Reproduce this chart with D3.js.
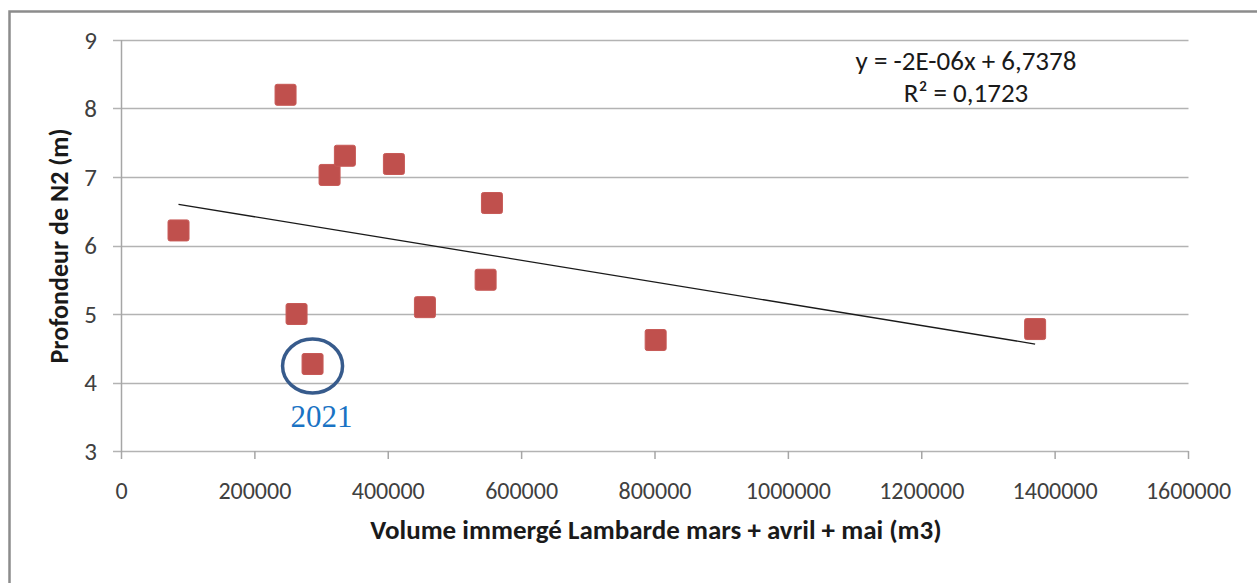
<!DOCTYPE html>
<html>
<head>
<meta charset="utf-8">
<script src="https://cdn.jsdelivr.net/npm/d3@7"></script>
<style>
body { margin: 0; background: #fff; }
svg { display: block; font-family: Carlito, Calibri, Lato, sans-serif; }
</style>
</head>
<body>
<script>
// volume immergé (m3) and profondeur N2 (m), one entry per year
let volumes = [85500, 246000, 312000, 335000, 408500, 555500, 262500, 286500, 455000, 546000, 801000, 1370000];
let depths = [6.22, 8.2, 7.03, 7.31, 7.19, 6.62, 5.0, 4.27, 5.10, 5.50, 4.62, 4.78];
let highlightIndex = 7;
let highlightLabel = "2021";
let xTicks = [0, 200000, 400000, 600000, 800000, 1000000, 1200000, 1400000, 1600000];
let yTicks = [3, 4, 5, 6, 7, 8, 9];
let eqLabel = "y = -2E-06x + 6,7378";
let r2Label = "R² = 0,1723";

let W = 1257, H = 583;
let svg = d3.select("body").append("svg").attr("width", W).attr("height", H);

x = d3.scaleLinear().domain([0, 1600000]).range([121.5, 1188.5]);
y = d3.scaleLinear().domain([3, 9]).range([451, 40]);

// outer frame (only top and left edges are visible)
svg.append("path")
	.attr("d", "M9.5," + H + "V11.5H" + W)
	.style("fill", "none").style("stroke", "#8c8c8c").style("stroke-width", "2.5px");

// horizontal gridlines
svg.append("g").selectAll("line").data(yTicks).enter().append("line")
	.attr("x1", 113).attr("x2", x(1600000))
	.attr("y1", d => Math.round(y(d)) + 0.5).attr("y2", d => Math.round(y(d)) + 0.5)
	.style("stroke", "#b3b3b3").style("stroke-width", "1.5px");

// y axis line
svg.append("line").attr("x1", 121.5).attr("x2", 121.5).attr("y1", y(9)).attr("y2", y(3))
	.style("stroke", "#a6a6a6").style("stroke-width", "1.5px");

// x ticks
svg.append("g").selectAll("line").data(xTicks).enter().append("line")
	.attr("x1", d => x(d)).attr("x2", d => x(d))
	.attr("y1", y(3)).attr("y2", y(3) + 8)
	.style("stroke", "#a6a6a6").style("stroke-width", "1.5px");

svg.append("g").selectAll("text").data(xTicks).enter().append("text")
	.attr("x", d => x(d)).attr("y", 499)
	.attr("text-anchor", "middle")
	.style("font-size", "24px").style("fill", "#404040")
	.text(d => d);

svg.append("g").selectAll("text").data(yTicks).enter().append("text")
	.attr("x", 97).attr("y", d => y(d) + 8.5)
	.attr("text-anchor", "end")
	.style("font-size", "25px").style("fill", "#404040")
	.text(d => d);

// axis titles
svg.append("text")
	.attr("x", 656).attr("y", 539)
	.attr("text-anchor", "middle")
	.style("font-size", "27px").style("font-weight", "bold").style("fill", "#1a1a1a")
	.text("Volume immergé Lambarde mars + avril + mai (m3)");

svg.append("text")
	.attr("transform", "translate(68,246) rotate(-90)")
	.attr("text-anchor", "middle")
	.style("font-size", "26px").style("font-weight", "bold").style("fill", "#1a1a1a")
	.text("Profondeur de N2 (m)");

// linear trend (least squares), drawn over the data range
let mx = d3.mean(volumes), my = d3.mean(depths);
let sxy = d3.sum(volumes, (v, i) => (v - mx) * (depths[i] - my));
let sxx = d3.sum(volumes, v => (v - mx) * (v - mx));
let slope = sxy / sxx, icpt = my - slope * mx;
let ext = d3.extent(volumes);
svg.append("path")
	.data([ext])
	.attr("d", d3.line().x(d => x(d)).y(d => y(icpt + slope * d)))
	.style("stroke", "#1a1a1a").style("fill", "none").style("stroke-width", "1.3px");

// points
let sz = 21;
svg.append("g").selectAll("rect").data(volumes).enter().append("rect")
	.attr("x", d => x(d) - sz / 2)
	.attr("y", (d, i) => y(depths[i]) - sz / 2)
	.attr("width", sz).attr("height", sz).attr("rx", 2)
	.style("fill", "#c0504d").style("stroke", "#c75a57").style("stroke-width", "1px");

// highlighted year
let hx = x(volumes[highlightIndex]), hy = y(depths[highlightIndex]);
svg.append("ellipse")
	.attr("cx", hx).attr("cy", hy + 2).attr("rx", 30).attr("ry", 27)
	.style("fill", "none").style("stroke", "#375b8c").style("stroke-width", "3.5px");
svg.append("text")
	.attr("x", hx + 9).attr("y", 427)
	.attr("text-anchor", "middle")
	.style("font-family", "'Liberation Serif', 'Times New Roman', serif")
	.style("font-size", "31px").style("fill", "#1a73c4")
	.text(highlightLabel);

// equation
svg.append("text").attr("x", 966).attr("y", 70).attr("text-anchor", "middle")
	.style("font-size", "27px").style("fill", "#1a1a1a").text(eqLabel);
svg.append("text").attr("x", 966).attr("y", 102).attr("text-anchor", "middle")
	.style("font-size", "27px").style("fill", "#1a1a1a").text(r2Label);
</script>
</body>
</html>
